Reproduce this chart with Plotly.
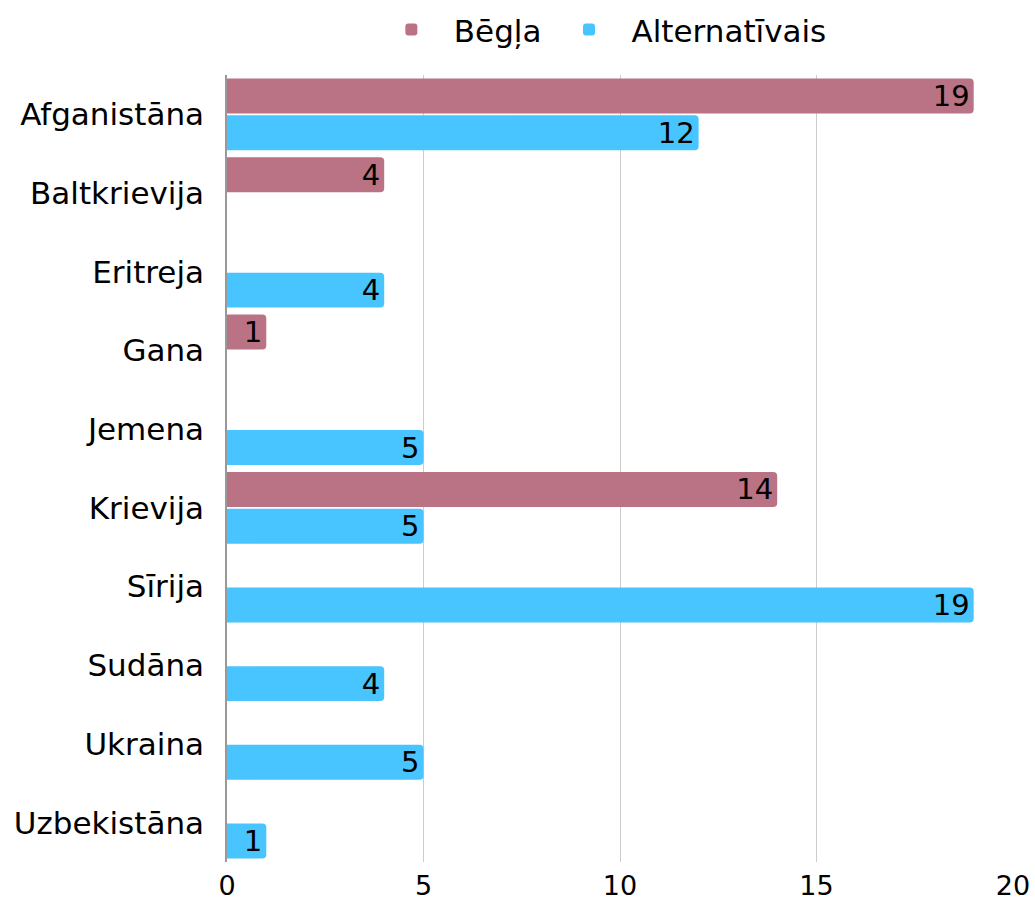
import plotly.graph_objects as go

countries = ["Afganistāna", "Baltkrievija", "Eritreja", "Gana", "Jemena",
             "Krievija", "Sīrija", "Sudāna", "Ukraina", "Uzbekistāna"]
begla = [19, 4, None, 1, None, 14, None, None, None, None]
alternativais = [12, None, 4, None, 5, 5, 19, 4, 5, 1]
x_ticks = [0, 5, 10, 15, 20]

FONT = "DejaVu Sans"
FS = 31

fig = go.Figure()
for name, vals, color in [("Bēgļa", begla, "#BA7385"),
                          ("Alternatīvais", alternativais, "#48C4FF")]:
    fig.add_trace(go.Bar(
        y=countries, x=vals, name=name, orientation="h",
        marker=dict(color=color, cornerradius=4, line=dict(width=0)),
        text=[("" if v is None else str(v)) for v in vals],
        textposition="inside", insidetextanchor="end", textangle=0,
        constraintext="none",
        textfont=dict(family=FONT, size=29, color="black"),
        cliponaxis=False,
    ))

fig.update_layout(
    width=1035, height=904,
    barmode="group", bargap=0.065, bargroupgap=0.05,
    paper_bgcolor="white", plot_bgcolor="white",
    margin=dict(l=227, r=22, t=75, b=42, autoexpand=False),
    font=dict(family=FONT, size=FS, color="black"),
    uniformtext=dict(minsize=29, mode="show"),
    legend=dict(orientation="h", x=0.475, xanchor="center",
                yref="container", y=0.967, yanchor="middle",
                font=dict(family=FONT, size=31, color="black"),
                itemwidth=75),
    showlegend=True,
)
fig.update_xaxes(range=[0, 20], tickvals=x_ticks, showgrid=True, gridcolor="#CCCCCC",
                 gridwidth=1, zeroline=False, showline=False, automargin=False,
                 tickfont=dict(family=FONT, size=27, color="black"), ticks="",
                 ticklabelstandoff=5)
fig.update_yaxes(autorange="reversed", showline=True, linecolor="#999999", linewidth=1.5,
                 showgrid=False, ticks="", ticklabelstandoff=15, automargin=False,
                 tickfont=dict(family=FONT, size=FS, color="black"))

fig.write_html("out.html", config={"displayModeBar": False},
               post_script="document.body.style.margin='0';document.body.style.overflow='hidden';")
